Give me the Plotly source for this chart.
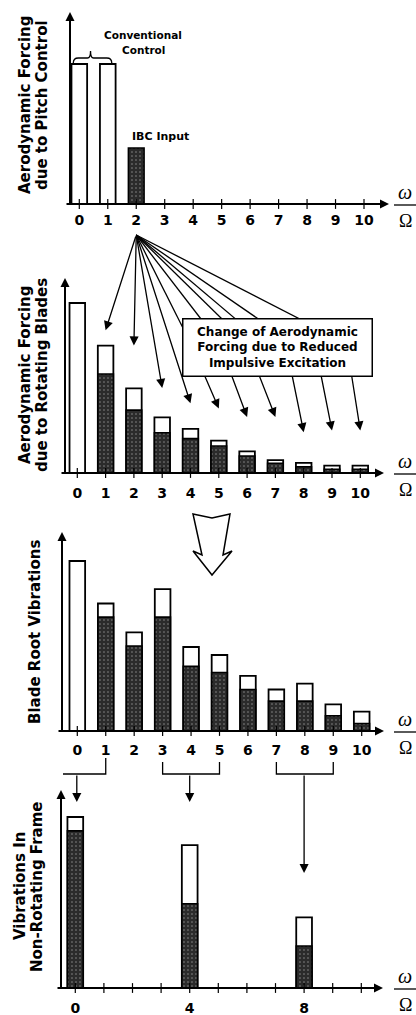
import plotly.graph_objects as go

W, H = 416, 1015

# ---- data -------------------------------------------------------------
harmonics = list(range(11))
tick_labels = [str(h) for h in harmonics]

pitch_x = [0, 1]
pitch_conventional = [100, 100]
ibc_x = [2]
ibc_input = [40]

rot_before = [100, 74.9, 49.8, 32.7, 25.9, 19.0, 12.7, 7.6, 6.0, 4.3, 4.3]
rot_after = [None, 58.2, 37.0, 23.7, 20.2, 15.9, 10.0, 5.7, 3.7, 2.2, 2.2]

root_before = [100, 75.0, 58.0, 83.5, 49.4, 44.7, 32.4, 24.4, 27.9, 15.7, 11.4]
root_after = [None, 67.0, 50.0, 67.0, 38.0, 34.4, 24.4, 17.6, 17.6, 9.0, 4.4]

fixed_x = [0, 4, 8]
fixed_labels = ["0", "4", "8"]
fixed_before = [100.6, 84.0, 41.6]
fixed_after = [92.4, 49.6, 24.7]

# ---- panel geometry (pixels) -----------------------------------------
geo = [
    dict(x0=79.3, s=28.47, base=204, top=12, ppu=1.4, yax=70, xend=389, lab=3),
    dict(x0=77.3, s=28.30, base=473, top=278, ppu=1.7, yax=65, xend=384, lab=7),
    dict(x0=77.3, s=28.44, base=731, top=532, ppu=1.7, yax=62, xend=384, lab=6),
    dict(x0=75.3, s=28.60, base=988, top=790, ppu=1.7, yax=61, xend=383, lab=7),
]


def X(i, v):
    return geo[i]["x0"] + v * geo[i]["s"]


def Y(i, v):
    return geo[i]["base"] - v * geo[i]["ppu"]


def P(x, y):
    return x / W, 1 - y / H


BOLD = "DejaVu Sans"
WHITE = dict(color="white", line=dict(color="black", width=1.8))
DARK = dict(
    color="#2b2b2b",
    pattern=dict(shape=".", fgcolor="#f0f0f0", bgcolor="#2b2b2b", size=4, solidity=0.12),
    line=dict(color="black", width=1.6),
)
BW = 0.55

fig = go.Figure()


def ax_ids(i):
    return ("x" if i == 0 else f"x{i+1}"), ("y" if i == 0 else f"y{i+1}")


def add_bars(i, x, y, marker):
    xa, ya = ax_ids(i)
    fig.add_trace(go.Bar(x=x, y=y, width=BW, marker=marker, xaxis=xa, yaxis=ya,
                         showlegend=False, hoverinfo="skip"))


def add_ticks(i):
    xa, ya = ax_ids(i)
    fig.add_trace(go.Scatter(x=harmonics, y=[0] * len(harmonics), mode="markers",
                             marker=dict(symbol="line-ns", size=7,
                                         line=dict(width=1.2, color="black")),
                             xaxis=xa, yaxis=ya, cliponaxis=False,
                             showlegend=False, hoverinfo="skip"))


# panel 1: pitch control input
add_bars(0, pitch_x, pitch_conventional, WHITE)
add_bars(0, ibc_x, ibc_input, DARK)
# panel 2: forcing on rotating blades
add_bars(1, harmonics, rot_before, WHITE)
add_bars(1, harmonics, rot_after, DARK)
# panel 3: blade root vibrations
add_bars(2, harmonics, root_before, WHITE)
add_bars(2, harmonics, root_after, DARK)
# panel 4: fixed-frame vibrations
add_bars(3, fixed_x, fixed_before, WHITE)
add_bars(3, fixed_x, fixed_after, DARK)
for i in range(4):
    add_ticks(i)

layout = dict(
    width=W, height=H, margin=dict(l=0, r=0, t=0, b=0),
    paper_bgcolor="white", plot_bgcolor="rgba(0,0,0,0)",
    barmode="overlay", showlegend=False,
)
L, R = 30, 400
for i, g in enumerate(geo):
    sfx = "" if i == 0 else str(i + 1)
    vals = fixed_x if i == 3 else harmonics
    texts = fixed_labels if i == 3 else tick_labels
    layout["xaxis" + sfx] = dict(
        domain=[L / W, R / W], range=[(L - g["x0"]) / g["s"], (R - g["x0"]) / g["s"]],
        anchor="y" + sfx, showgrid=False, zeroline=False, showline=False,
        ticks="outside", ticklen=g["lab"], tickcolor="rgba(0,0,0,0)",
        tickvals=vals, ticktext=texts,
        tickfont=dict(family=BOLD, size=14, weight="bold", color="black"),
        fixedrange=True,
    )
    top = g["top"] - 6
    layout["yaxis" + sfx] = dict(
        domain=[(H - g["base"]) / H, (H - top) / H], range=[0, (g["base"] - top) / g["ppu"]],
        anchor="x" + sfx, visible=False, fixedrange=True,
    )
fig.update_layout(**layout)

annotations = []
shapes = []


def arrow(x1, y1, x2, y2, width=1.3, size=1.0, head=2):
    xx, yy = P(x2, y2)
    annotations.append(dict(
        x=xx, y=yy, xref="paper", yref="paper", ax=x1 - x2, ay=y1 - y2,
        axref="pixel", ayref="pixel", text="", showarrow=True, arrowhead=head,
        arrowsize=size, arrowwidth=width, arrowcolor="black", standoff=0, startstandoff=0,
    ))


def seg(x1, y1, x2, y2, width=1.3):
    a, b = P(x1, y1)
    c, d = P(x2, y2)
    shapes.append(dict(type="line", xref="paper", yref="paper", x0=a, y0=b, x1=c, y1=d,
                       line=dict(color="black", width=width)))


def path(cmds, width=1.3, fill=None, close=False):
    out = []
    for c in cmds:
        op, pts = c[0], c[1:]
        coords = " ".join(f"{P(x, y)[0]:.5f},{P(x, y)[1]:.5f}" for x, y in pts)
        out.append(f"{op} {coords}")
    d = " ".join(out) + (" Z" if close else "")
    s = dict(type="path", xref="paper", yref="paper", path=d,
             line=dict(color="black", width=width))
    if fill:
        s["fillcolor"] = fill
    shapes.append(s)


def text(x, y, s, size, angle=0, family=BOLD, weight="bold", style="normal", xanchor="center"):
    xx, yy = P(x, y)
    annotations.append(dict(
        x=xx, y=yy, xref="paper", yref="paper", text=s, showarrow=False, textangle=angle,
        xanchor=xanchor, yanchor="middle",
        font=dict(family=family, size=size, weight=weight, style=style, color="black"),
    ))


# axes with arrowheads and the omega / Omega fraction
for i, g in enumerate(geo):
    arrow(g["yax"] - 5, g["base"], g["xend"], g["base"], width=2.0, size=0.9)
    arrow(g["yax"], g["base"] + 1, g["yax"], g["top"], width=2.0, size=0.9)
    text(405, g["base"] - 12, "ω", 20, family="Liberation Serif", weight="normal", style="italic")
    seg(394, g["base"] + 1, 416, g["base"] + 1, width=1.3)
    text(405, g["base"] + 17, "Ω", 18, family="Liberation Serif", weight="normal")

# axis titles
text(25, 105, "Aerodynamic Forcing", 15, angle=-90)
text(42, 105, "due to Pitch Control", 15, angle=-90)
text(25, 375, "Aerodynamic Forcing", 15, angle=-90)
text(42, 375, "due to Rotating Blades", 15, angle=-90)
text(35, 632, "Blade Root Vibrations", 15, angle=-90)
text(20, 886, "Vibrations In", 15, angle=-90)
text(37, 887, "Non-Rotating Frame", 15, angle=-90)

# panel 1 labels
text(143, 35, "Conventional", 10.5)
text(143, 50, "Control", 10.5)
text(130, 136, "IBC Input", 11, xanchor="left")
bl, br = X(0, 0) - 6, X(0, 1) + 4
bm = (bl + br) / 2 - 2
path([("M", (bl, 63)), ("Q", (bl, 58), (bl + 5, 58)), ("L", (bm - 3, 58)),
      ("Q", (bm, 58), (bm, 51)), ("Q", (bm, 58), (bm + 3, 58)), ("L", (br - 5, 58)),
      ("Q", (br, 58), (br, 63))], width=1.3)

# fan of arrows from the IBC harmonic to the rotating-blade harmonics
ox, oy = X(0, 2), geo[0]["base"] + 31
tip_units = [None, 84, 75, 50, 41, 38, 33, 33, 24, 25, 25]
bends = {5: (190.5, 343), 6: (219.5, 343), 7: (246.5, 343), 8: (290, 365), 9: (318, 360), 10: (346.5, 343)}
for k in range(1, 11):
    tx, ty = X(1, k), Y(1, tip_units[k])
    if k in bends:
        bx, by = bends[k]
        seg(ox, oy, bx, by)
        arrow(bx, by, tx, ty, width=1.3, size=1.4)
    else:
        arrow(ox, oy, tx, ty, width=1.3, size=1.4)

# explanatory box (drawn over the fan)
bx0, by0 = P(277, 318)
annotations.append(dict(
    x=bx0, y=by0, xref="paper", yref="paper", showarrow=False,
    text="Change of Aerodynamic<br>Forcing due to Reduced<br>Impulsive Excitation",
    font=dict(family=BOLD, size=12, weight="bold", color="black"),
    bgcolor="white", bordercolor="black", borderwidth=1.5, borderpad=2,
    width=184, height=52, align="center",
))

# hollow arrow between rotating forcing and blade root response
path([("M", (193, 514)), ("L", (212, 518)), ("L", (230, 514)), ("L", (223, 555)),
      ("L", (232, 551)), ("L", (212, 575)), ("L", (193, 551)), ("L", (202, 555))],
     width=1.5, fill="white", close=True)

# grouping brackets from rotating to fixed frame
path([("M", (63, 774)), ("L", (X(2, 1), 774)), ("L", (X(2, 1), 758))])
path([("M", (X(2, 3), 762)), ("L", (X(2, 3), 774)), ("L", (X(2, 5), 774)), ("L", (X(2, 5), 762))])
path([("M", (X(2, 7), 762)), ("L", (X(2, 7), 774)), ("L", (X(2, 9), 774)), ("L", (X(2, 9), 762))])
arrow(X(3, 0) + 1.5, 774, X(3, 0) + 1.5, 802, width=1.3, size=1.4)
arrow(X(3, 4), 774, X(3, 4), 802, width=1.3, size=1.4)
arrow(X(3, 8), 774, X(3, 8), 873, width=1.3, size=1.4)

fig.update_layout(annotations=annotations, shapes=shapes)
fig.write_html("out.html")
